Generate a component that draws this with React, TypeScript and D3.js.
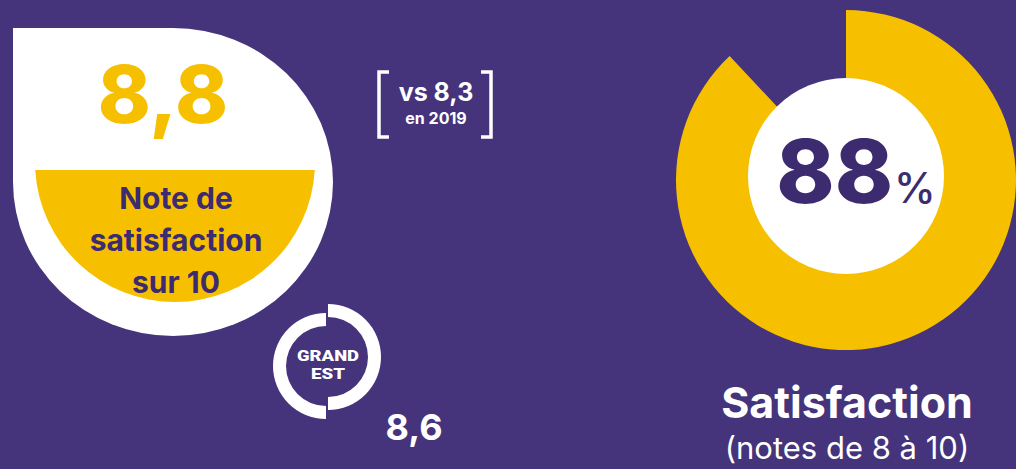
import React, { useRef, useEffect } from 'react';
import * as d3 from 'd3';

const noteGlobale = [8.8];
const noteLabelLines = ['Note de', 'satisfaction', 'sur 10'];
const notePrecedente = [8.3];
const anneePrecedente = ['2019'];
const noteRegion = [8.6];
const regionLines = ['GRAND', 'EST'];
const satisfactionParts = [88, 12];
const satisfactionTitle = ['Satisfaction', '(notes de 8 à 10)'];

const W = 1016;
const H = 469;
const PURPLE = '#45337b';
const YELLOW = '#f6c000';
const DARK = '#3d2b70';
const FONT = 'Inter, "Noto Sans", sans-serif';

const fr = d3.formatLocale({ decimal: ',', thousands: ' ', grouping: [3], currency: ['', ' €'] });
const fmt1 = fr.format('.1f');

const App = () => {
  const chartRef = useRef<HTMLDivElement>(null);

  useEffect(() => {
    d3.select(chartRef.current).select('svg').remove();
    const svg = d3
      .select(chartRef.current)
      .append('svg')
      .attr('width', W)
      .attr('height', H)
      .style('position', 'absolute')
      .style('left', 0)
      .style('top', 0);

    svg.append('rect').attr('width', W).attr('height', H).attr('fill', PURPLE);

    // ---- bloc note /10 ----
    const cx = 173, cy = 182, rx = 160, ry = 154;
    const badge = svg.append('g');
    badge
      .append('path')
      .attr('d', `M${cx - rx},${cy} L${cx - rx},${cy - ry} L${cx},${cy - ry} A${rx},${ry} 0 1 1 ${cx - rx},${cy} Z`)
      .attr('fill', 'white');

    const rIn = 140;
    const cutY = 170;
    const dy = cutY - (cy - 4);
    const halfW = Math.sqrt(rIn * rIn - dy * dy);
    badge
      .append('path')
      .attr('d', `M${cx + 2 - halfW},${cutY} L${cx + 2 + halfW},${cutY} A${rIn},${rIn} 0 0 1 ${cx + 2 - halfW},${cutY} Z`)
      .attr('fill', YELLOW);

    badge
      .selectAll('.note')
      .data(noteGlobale)
      .enter()
      .append('text')
      .attr('x', 163)
      .attr('y', 123)
      .attr('text-anchor', 'middle')
      .style('font-family', FONT)
      .style('font-weight', 800)
      .style('font-size', '80px')
      .style('fill', YELLOW)
      .text(d => fmt1(d));

    badge
      .selectAll('.lbl')
      .data(noteLabelLines)
      .enter()
      .append('text')
      .attr('x', 176)
      .attr('y', (d, i) => 209 + i * 42)
      .attr('text-anchor', 'middle')
      .style('font-family', FONT)
      .style('font-weight', 700)
      .style('font-size', '30px')
      .style('fill', DARK)
      .text(d => d);

    // ---- rappel 2019 ----
    const bx0 = 379, bx1 = 491, by0 = 72, by1 = 137, tick = 10;
    const bracket = svg.append('g').attr('fill', 'none').attr('stroke', 'white').attr('stroke-width', 3.5);
    bracket.append('path').attr('d', `M${bx0 + tick},${by0} H${bx0} V${by1} H${bx0 + tick}`);
    bracket.append('path').attr('d', `M${bx1 - tick},${by0} H${bx1} V${by1} H${bx1 - tick}`);
    svg
      .append('text')
      .attr('x', 436)
      .attr('y', 101)
      .attr('text-anchor', 'middle')
      .style('font-family', FONT)
      .style('font-weight', 700)
      .style('font-size', '25px')
      .style('fill', 'white')
      .text(`vs ${fmt1(notePrecedente[0])}`);
    svg
      .append('text')
      .attr('x', 436)
      .attr('y', 124)
      .attr('text-anchor', 'middle')
      .style('font-family', FONT)
      .style('font-weight', 700)
      .style('font-size', '16px')
      .style('fill', 'white')
      .text(`en ${anneePrecedente[0]}`);

    // ---- logo région ----
    const ring = d3.arc<any>().innerRadius(40).outerRadius(53);
    svg
      .append('path')
      .attr('transform', 'translate(328,357)')
      .attr('d', ring({ startAngle: 0, endAngle: Math.PI }) as string)
      .attr('fill', 'white');
    svg
      .append('path')
      .attr('transform', 'translate(326,366)')
      .attr('d', ring({ startAngle: Math.PI, endAngle: 2 * Math.PI }) as string)
      .attr('fill', 'white');
    svg
      .selectAll('.region')
      .data(regionLines)
      .enter()
      .append('text')
      .attr('x', 328)
      .attr('y', (d, i) => 361 + i * 18)
      .attr('text-anchor', 'middle')
      .attr('textLength', (d, i) => (i === 0 ? 62 : 34))
      .attr('lengthAdjust', 'spacingAndGlyphs')
      .style('font-family', 'Roboto, sans-serif')
      .style('font-weight', 900)
      .style('font-size', '15px')
      .style('fill', 'white')
      .text(d => d);
    svg
      .append('text')
      .attr('x', 414)
      .attr('y', 440)
      .attr('text-anchor', 'middle')
      .style('font-family', FONT)
      .style('font-weight', 700)
      .style('font-size', '36px')
      .style('fill', 'white')
      .text(fmt1(noteRegion[0]));

    // ---- anneau 88 % ----
    const dcx = 846, dcy = 180;
    const pie = d3.pie<number>().sort(null).value(d => d);
    const arc = d3.arc<d3.PieArcDatum<number>>().innerRadius(90).outerRadius(170);
    const donut = svg.append('g').attr('transform', `translate(${dcx},${dcy})`);
    donut
      .selectAll('path')
      .data(pie(satisfactionParts))
      .enter()
      .append('path')
      .attr('d', arc)
      .attr('fill', (d, i) => (i === 0 ? YELLOW : 'none'));
    svg.append('circle').attr('cx', dcx).attr('cy', 176).attr('r', 98).attr('fill', 'white');

    const pct = svg
      .append('text')
      .attr('x', 856)
      .attr('y', 203)
      .attr('text-anchor', 'middle')
      .style('font-family', FONT)
      .style('font-weight', 800)
      .style('fill', DARK);
    pct.append('tspan').style('font-size', '88px').text(satisfactionParts[0]);
    pct.append('tspan').attr('dx', 1).style('font-size', '42px').style('font-weight', 500).text('%');

    svg
      .selectAll('.title')
      .data(satisfactionTitle)
      .enter()
      .append('text')
      .attr('x', 847)
      .attr('y', (d, i) => (i === 0 ? 418 : 459))
      .attr('text-anchor', 'middle')
      .style('font-family', FONT)
      .style('font-weight', (d, i) => (i === 0 ? 700 : 400))
      .style('font-size', (d, i) => (i === 0 ? '43px' : '31px'))
      .style('fill', 'white')
      .text(d => d);
  }, []);

  return <div ref={chartRef} className="satisfaction-chart"></div>;
};

export default App;
